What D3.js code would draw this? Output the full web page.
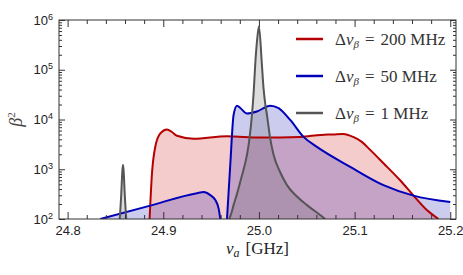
<!doctype html>
<html>
<head>
<meta charset="utf-8">
<style>
  body { margin: 0; background: #fff; }
  .tick text { font-family: "Liberation Sans", Arial, sans-serif; font-size: 13px; fill: #222; }
  .tick line { stroke: #333; }
  .domain { display: none; }
</style>
</head>
<body>
<div id="chart"></div>
<script src="https://d3js.org/d3.v7.min.js"></script>
<script>

// data, frequency in GHz, beta^2 linear
var redNu  = [24.8857, 24.8882, 24.8916, 24.8969, 24.9039, 24.9091, 24.9143, 24.9317, 24.9666, 25.0014, 25.0432, 25.0650, 25.0777, 25.0881, 25.0985, 25.1076, 25.1163, 25.1302, 25.1476, 25.1616, 25.1755, 25.1877];
var redB2  = [100, 830, 2800, 5250, 6300, 5600, 4700, 4100, 4600, 4350, 4470, 4900, 5010, 5130, 4470, 3550, 2450, 1320, 600, 295, 151, 100];

var blueNu = [24.8342, 24.8864, 24.9352, 24.9422, 24.9491, 24.9544, 24.9579, 24.9596, null,
              24.9666, 24.9700, 24.9735, 24.9770, 24.9805, 24.9875, 24.9979, 25.0118, 25.0205, 25.0327, 25.0466, 25.0606, 25.0954, 25.1302, 25.1616, 25.2000];
var blueB2 = [100, 186, 331, 347, 302, 240, 162, 100, null,
              100, 1200, 12300, 19000, 17000, 13200, 14500, 19000, 17000, 9800, 4470, 2820, 1120, 480, 295, 219];

var greyNu = [24.8545, 24.8561, 24.8572, 24.8579, 24.8586, 24.8597, 24.8613, null,
              24.9690, 24.9712, 24.9735, 24.9770, 24.9805, 24.9840, 24.9875, 24.9900, 24.9927, 24.9945, 24.9961, 24.9979, 25.0000,
              25.0031, 25.0048, 25.0065, 25.0084, 25.0115, 25.0153, 25.0220, 25.0293, 25.0400, 25.0502, 25.0640, 25.0693];
var greyB2 = [100, 320, 900, 1230, 900, 320, 100, null,
              100, 132, 190, 316, 560, 1000, 1950, 4000, 12300, 35500, 126000, 363000, 740000,
              126000, 42700, 21400, 12300, 4470, 1950, 890, 480, 280, 190, 120, 100];

var xTicks = [24.8, 24.9, 25.0, 25.1, 25.2];
var yTicks = [1e2, 1e3, 1e4, 1e5, 1e6];
var legendValues = ["200 MHz", "50 MHz", "1 MHz"];

var W = 463, H = 275;
var pL = 59, pR = 456, pT = 20, pB = 219;

var svg = d3.select("#chart").append("svg")
    .attr("width", W)
    .attr("height", H);

var x = d3.scaleLinear().domain([24.791, 25.206]).range([pL, pR]);
var y = d3.scaleLog().domain([1e2, 1e6]).range([pB, pT]);

svg.append("clipPath").attr("id", "clip")
  .append("rect")
    .attr("x", pL).attr("y", pT)
    .attr("width", pR - pL).attr("height", pB - pT);

function zipped(nu, b2) {
  return nu.map(function(d, i) { return [d, b2[i]]; });
}

var series = [
  {data: zipped(redNu, redB2),   line: "#b40000", fill: "rgb(204,0,0)",  op: 0.2},
  {data: zipped(blueNu, blueB2), line: "#0000bb", fill: "rgb(0,0,176)",  op: 0.2},
  {data: zipped(greyNu, greyB2), line: "#555555", fill: "rgb(85,85,85)", op: 0.2}
];

var area = d3.area()
    .defined(function(d) { return d[0] != null; })
    .x(function(d) { return x(d[0]); })
    .y0(pB)
    .y1(function(d) { return y(d[1]); })
    .curve(d3.curveMonotoneX);

var line = d3.line()
    .defined(function(d) { return d[0] != null; })
    .x(function(d) { return x(d[0]); })
    .y(function(d) { return y(d[1]); })
    .curve(d3.curveMonotoneX);

var plot = svg.append("g").attr("clip-path", "url(#clip)");

series.forEach(function(s) {
  plot.append("path")
    .datum(s.data)
    .attr("d", area)
    .attr("fill", s.fill)
    .attr("fill-opacity", s.op);
});
series.forEach(function(s) {
  plot.append("path")
    .datum(s.data)
    .attr("d", line)
    .attr("fill", "none")
    .attr("stroke", s.line)
    .attr("stroke-width", 2)
    .attr("stroke-linejoin", "round");
});

// frame
svg.append("rect")
  .attr("x", pL).attr("y", pT)
  .attr("width", pR - pL).attr("height", pB - pT)
  .attr("fill", "none")
  .attr("stroke", "#333")
  .attr("stroke-width", 1);

// x axes (ticks inward)
var xMinor = d3.range(0, 21).map(function(i) { return +(24.8 + i * 0.02).toFixed(2); })
  .filter(function(v) { return xTicks.indexOf(v) < 0; });

svg.append("g")
  .attr("transform", "translate(0," + pB + ")")
  .call(d3.axisBottom(x).tickValues(xTicks).tickSize(-7).tickPadding(7).tickFormat(d3.format(".1f")));
svg.append("g")
  .attr("transform", "translate(0," + pB + ")")
  .call(d3.axisBottom(x).tickValues(xMinor).tickSize(-4).tickFormat(""));
svg.append("g")
  .attr("transform", "translate(0," + pT + ")")
  .call(d3.axisTop(x).tickValues(xTicks).tickSize(-7).tickFormat(""));
svg.append("g")
  .attr("transform", "translate(0," + pT + ")")
  .call(d3.axisTop(x).tickValues(xMinor).tickSize(-4).tickFormat(""));

// y axes
var yMinor = y.ticks().filter(function(v) { return yTicks.indexOf(v) < 0; });

var gy = svg.append("g")
  .attr("transform", "translate(" + pL + ",0)")
  .call(d3.axisLeft(y).tickValues(yTicks).tickSize(-6).tickPadding(6));
gy.selectAll(".tick text").each(function(d) {
  var t = d3.select(this);
  t.text(null);
  t.append("tspan").text("10");
  t.append("tspan").attr("dy", "-0.55em").attr("font-size", "9px").text(Math.round(Math.log10(d)));
});
svg.append("g")
  .attr("transform", "translate(" + pL + ",0)")
  .call(d3.axisLeft(y).tickValues(yMinor).tickSize(-3).tickFormat(""));
svg.append("g")
  .attr("transform", "translate(" + pR + ",0)")
  .call(d3.axisRight(y).tickValues(yTicks).tickSize(-6).tickFormat(""));
svg.append("g")
  .attr("transform", "translate(" + pR + ",0)")
  .call(d3.axisRight(y).tickValues(yMinor).tickSize(-3).tickFormat(""));

// axis labels
var serif = "'Liberation Serif', 'DejaVu Serif', serif";

var xl = svg.append("text")
  .attr("x", (pL + pR) / 2)
  .attr("y", 254)
  .attr("text-anchor", "middle")
  .attr("font-family", serif)
  .attr("font-size", "17px")
  .attr("fill", "#222");
xl.append("tspan").attr("font-style", "italic").text("ν");
xl.append("tspan").attr("font-style", "italic").attr("font-size", "12px").attr("dy", 3).text("a");
xl.append("tspan").attr("dy", -3).attr("dx", 6).text("[GHz]");

var yl = svg.append("text")
  .attr("transform", "translate(22," + ((pT + pB) / 2) + ") rotate(-90)")
  .attr("text-anchor", "middle")
  .attr("font-family", serif)
  .attr("font-size", "18px")
  .attr("fill", "#444");
yl.append("tspan").attr("font-style", "italic").text("β");
yl.append("tspan").attr("font-size", "11px").attr("dy", -7).text("2");

// legend
var legendY = [39, 76, 113];
legendValues.forEach(function(v, i) {
  svg.append("line")
    .attr("x1", 296).attr("x2", 323)
    .attr("y1", legendY[i]).attr("y2", legendY[i])
    .attr("stroke", series[i].line)
    .attr("stroke-width", 2.5);
  var t = svg.append("text")
    .attr("x", 335)
    .attr("y", legendY[i] + 6)
    .attr("font-family", serif)
    .attr("font-size", "17px")
    .attr("fill", "#333");
  t.append("tspan").text("Δ");
  t.append("tspan").attr("font-style", "italic").text("ν");
  t.append("tspan").attr("font-style", "italic").attr("font-size", "11px").attr("dy", 3).text("β");
  t.append("tspan").attr("dy", -3).attr("dx", 6).text("=");
  t.append("tspan").attr("dx", 6).text(v);
});

</script>
</body>
</html>
